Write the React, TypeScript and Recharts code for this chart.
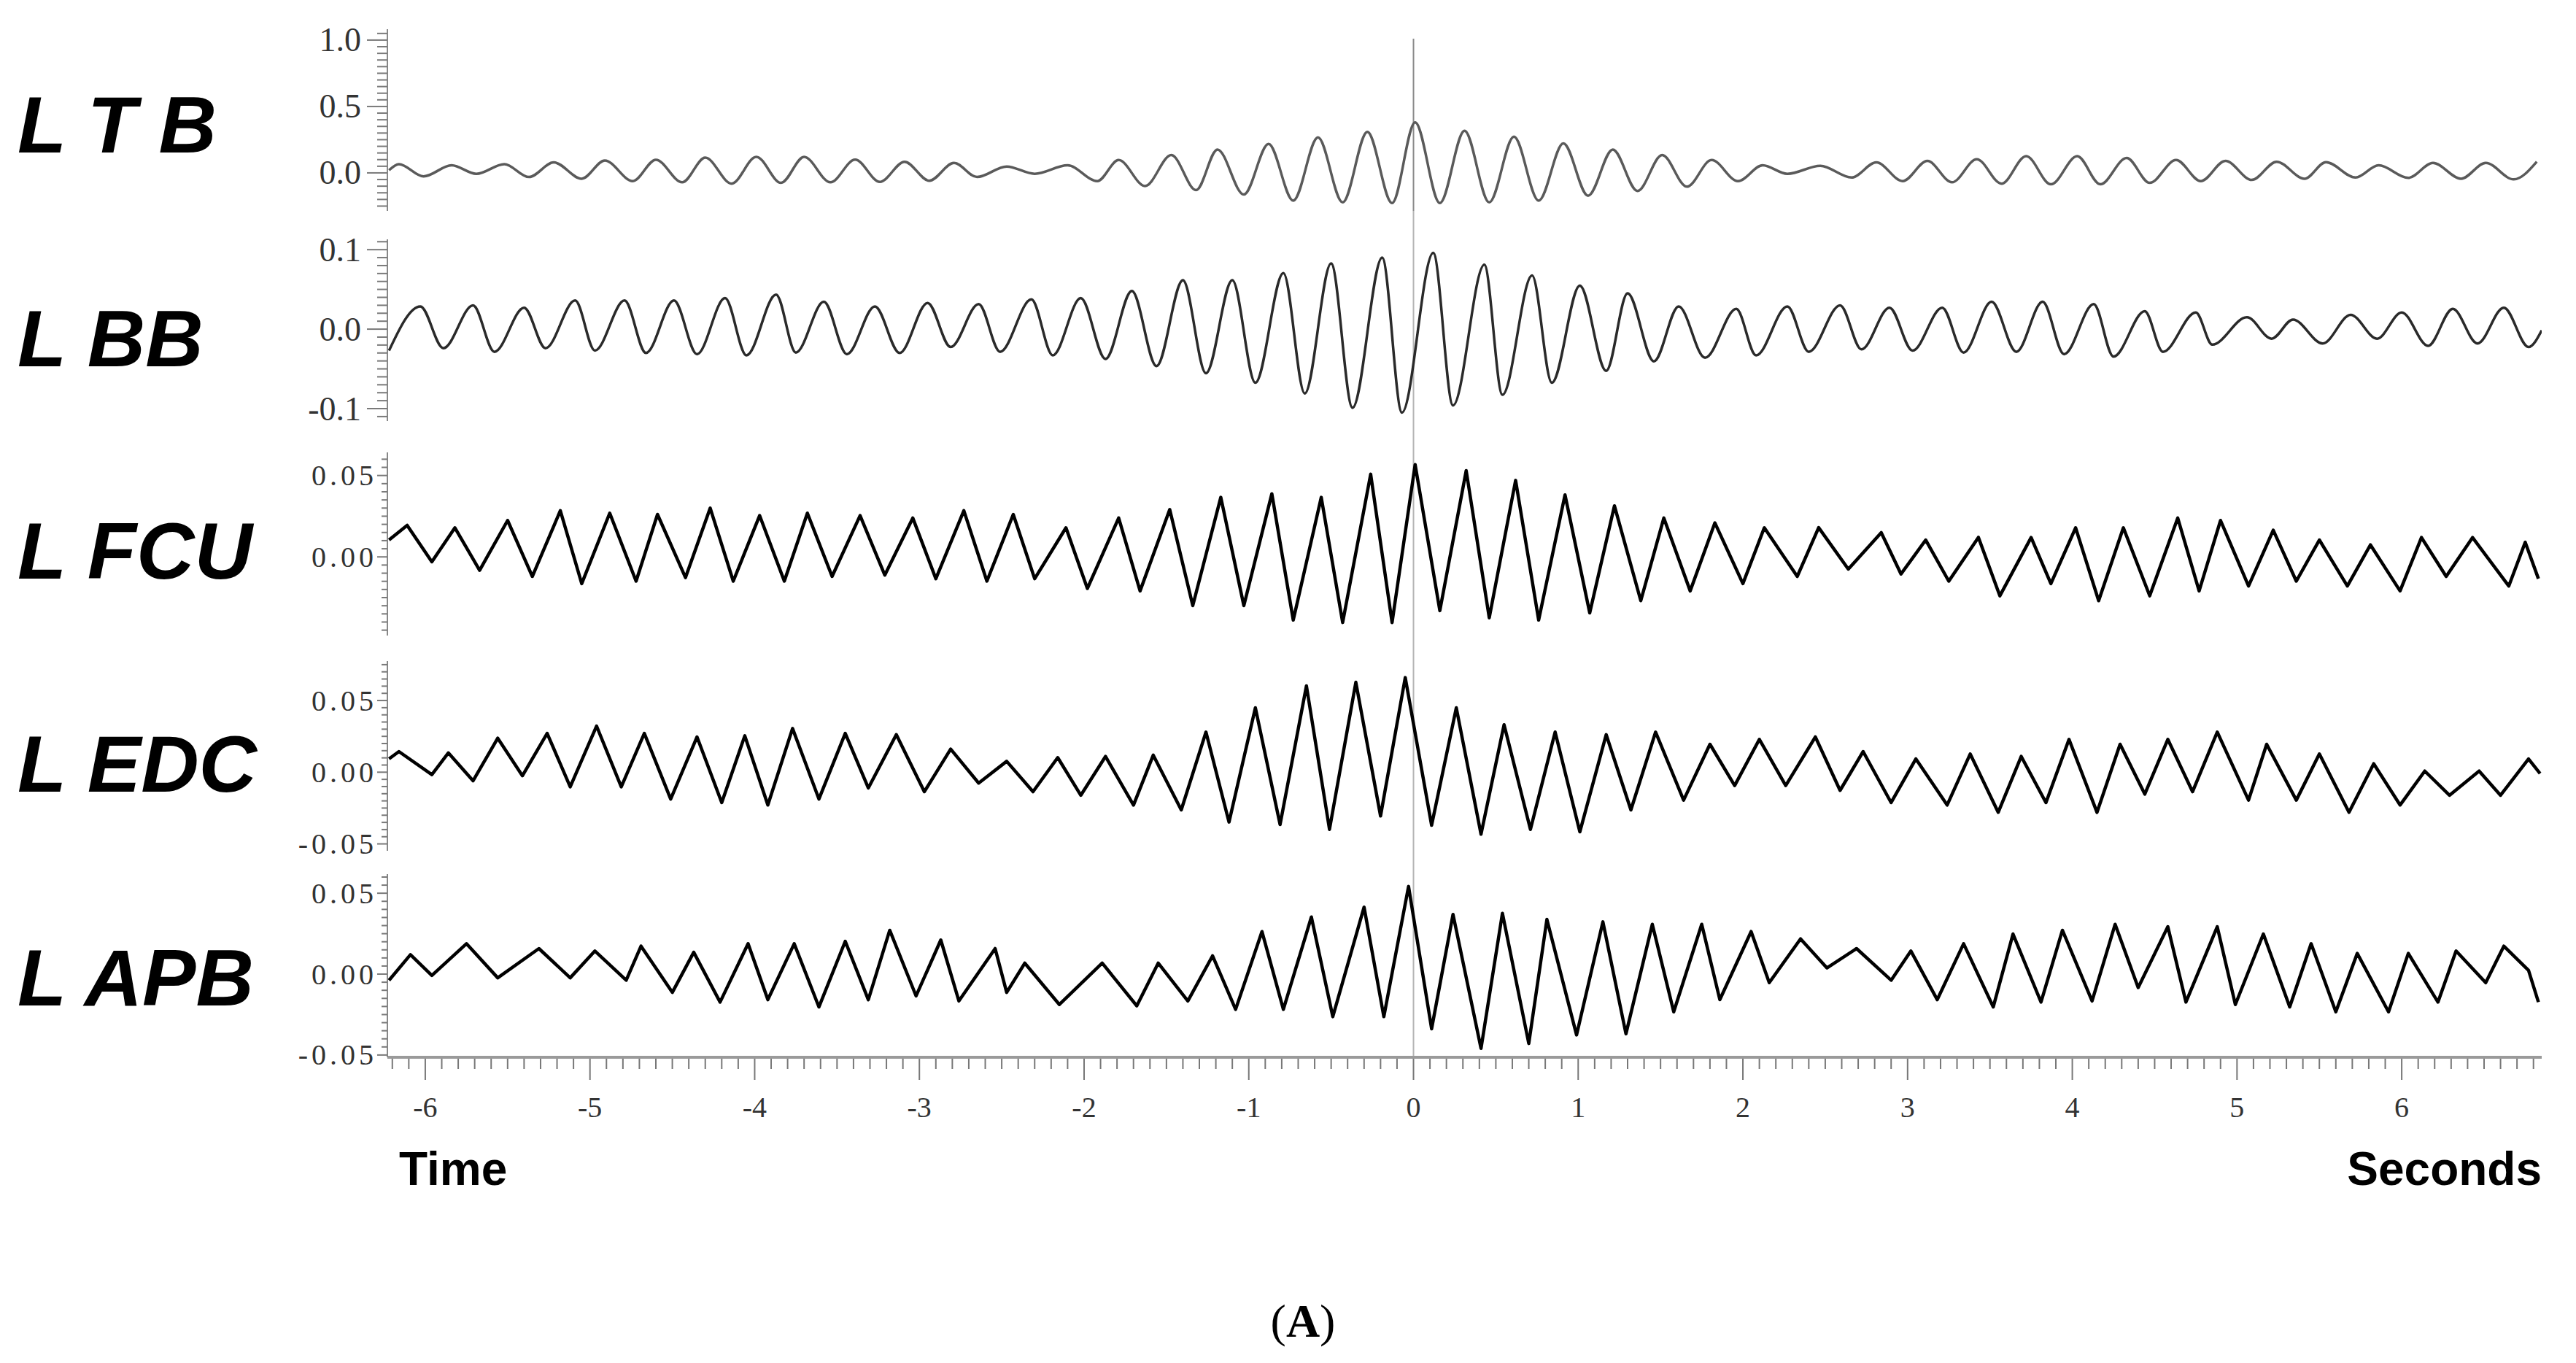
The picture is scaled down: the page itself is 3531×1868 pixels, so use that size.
import React from 'react';
import { LineChart, Line, XAxis, YAxis, ReferenceLine } from 'recharts';

// time lag window (seconds)
const X_MIN = -6.23;
const X_MAX = 6.85;
const xMajorTicks = [-6, -5, -4, -3, -2, -1, 0, 1, 2, 3, 4, 5, 6];

// peaks / troughs
const ltbTime = [
  -6.22, -6.16, -6.01, -5.84, -5.69, -5.52, -5.37, -5.22, -5.05, -4.91, -4.74, -4.6, -4.44, -4.3, -4.14,
  -3.99, -3.84, -3.7, -3.54, -3.39, -3.24, -3.09, -2.94, -2.79, -2.65, -2.47, -2.3, -2.1, -1.92, -1.79,
  -1.63, -1.47, -1.32, -1.19, -1.03, -0.88, -0.73, -0.58, -0.43, -0.28, -0.13, 0.01, 0.16, 0.31, 0.46,
  0.61, 0.76, 0.91, 1.06, 1.21, 1.36, 1.51, 1.66, 1.81, 1.97, 2.12, 2.27, 2.47, 2.66, 2.81, 2.97, 3.12,
  3.27, 3.42, 3.57, 3.72, 3.87, 4.03, 4.17, 4.33, 4.47, 4.63, 4.78, 4.93, 5.09, 5.24, 5.41, 5.54, 5.72,
  5.86, 6.04, 6.19, 6.36, 6.51, 6.68, 6.82,
];
const ltbValue = [
  0.02, 0.066, -0.026, 0.057, -0.007, 0.066, -0.031, 0.079, -0.044, 0.093, -0.062, 0.099, -0.071, 0.115,
  -0.081, 0.121, -0.075, 0.121, -0.071, 0.1, -0.068, 0.084, -0.059, 0.075, -0.031, 0.048, -0.007, 0.057,
  -0.062, 0.097, -0.099, 0.134, -0.13, 0.176, -0.163, 0.218, -0.209, 0.267, -0.222, 0.309, -0.227, 0.38,
  -0.227, 0.317, -0.222, 0.273, -0.209, 0.222, -0.172, 0.176, -0.136, 0.134, -0.104, 0.097, -0.062, 0.057,
  -0.007, 0.053, -0.035, 0.079, -0.062, 0.09, -0.071, 0.103, -0.081, 0.126, -0.086, 0.126, -0.086, 0.112,
  -0.075, 0.097, -0.062, 0.09, -0.053, 0.084, -0.044, 0.081, -0.035, 0.057, -0.038, 0.075, -0.044, 0.075,
  -0.049, 0.084,
];

const lbbTime = [
  -6.22, -6.03, -5.89, -5.71, -5.58, -5.4, -5.27, -5.09, -4.97, -4.79, -4.66, -4.49, -4.35, -4.18, -4.05,
  -3.87, -3.75, -3.58, -3.44, -3.27, -3.12, -2.95, -2.81, -2.64, -2.51, -2.32, -2.19, -2.02, -1.87, -1.71,
  -1.56, -1.4, -1.26, -1.1, -0.96, -0.79, -0.66, -0.5, -0.37, -0.19, -0.07, 0.12, 0.24, 0.43, 0.54, 0.72,
  0.84, 1.01, 1.17, 1.3, 1.46, 1.61, 1.77, 1.96, 2.08, 2.27, 2.4, 2.59, 2.72, 2.89, 3.03, 3.21, 3.34, 3.51,
  3.66, 3.82, 3.95, 4.13, 4.25, 4.44, 4.55, 4.75, 4.85, 5.06, 5.21, 5.34, 5.52, 5.69, 5.85, 6.0, 6.16,
  6.31, 6.46, 6.62, 6.77, 6.85,
];
const lbbValue = [
  -0.027, 0.0286, -0.024, 0.03, -0.0285, 0.027, -0.024, 0.036, -0.027, 0.036, -0.03, 0.036, -0.0315, 0.039,
  -0.033, 0.0435, -0.0295, 0.0345, -0.0315, 0.0286, -0.03, 0.033, -0.0225, 0.0315, -0.0285, 0.0375, -0.033,
  0.039, -0.0375, 0.048, -0.0465, 0.0615, -0.0555, 0.0615, -0.0675, 0.0705, -0.081, 0.0826, -0.099, 0.09,
  -0.105, 0.096, -0.096, 0.081, -0.0826, 0.0675, -0.0675, 0.0547, -0.0525, 0.045, -0.0405, 0.0286, -0.036,
  0.0255, -0.033, 0.0286, -0.0285, 0.03, -0.0255, 0.027, -0.027, 0.027, -0.0295, 0.0345, -0.0285, 0.0345,
  -0.0315, 0.0315, -0.0345, 0.0225, -0.0285, 0.021, -0.0195, 0.015, -0.012, 0.012, -0.018, 0.018, -0.012,
  0.021, -0.021, 0.0255, -0.018, 0.027, -0.0225, -0.0015,
];

const fcuTime = [
  -6.22, -6.11, -5.96, -5.82, -5.67, -5.5, -5.35, -5.18, -5.05, -4.88, -4.72, -4.59, -4.42, -4.27, -4.13,
  -3.97, -3.82, -3.68, -3.53, -3.36, -3.21, -3.04, -2.9, -2.73, -2.59, -2.43, -2.3, -2.11, -1.98, -1.79,
  -1.66, -1.48, -1.34, -1.17, -1.03, -0.86, -0.73, -0.56, -0.43, -0.26, -0.13, 0.01, 0.16, 0.32, 0.46, 0.62,
  0.76, 0.92, 1.07, 1.22, 1.38, 1.52, 1.68, 1.83, 2.0, 2.13, 2.33, 2.46, 2.64, 2.84, 2.96, 3.11, 3.25, 3.43,
  3.56, 3.75, 3.87, 4.02, 4.16, 4.31, 4.47, 4.64, 4.77, 4.9, 5.07, 5.22, 5.36, 5.5, 5.67, 5.81, 5.99, 6.12,
  6.27, 6.43, 6.65, 6.75, 6.83,
];
const fcuValue = [
  0.0104, 0.0194, -0.003, 0.0179, -0.0082, 0.0224, -0.012, 0.0284, -0.0164, 0.0269, -0.0149, 0.0261, -0.0127,
  0.03, -0.0149, 0.0254, -0.0149, 0.0269, -0.012, 0.0254, -0.0112, 0.0239, -0.0134, 0.0284, -0.0149, 0.0261,
  -0.0134, 0.0179, -0.0194, 0.0239, -0.0209, 0.0291, -0.0299, 0.0366, -0.0299, 0.0388, -0.0388, 0.0366,
  -0.0403, 0.0508, -0.0403, 0.0567, -0.033, 0.053, -0.0374, 0.047, -0.0388, 0.0381, -0.0344, 0.0314, -0.0269,
  0.0239, -0.0209, 0.0209, -0.0164, 0.0179, -0.012, 0.018, -0.0075, 0.0149, -0.0105, 0.0104, -0.0149, 0.012,
  -0.0239, 0.0119, -0.0164, 0.0179, -0.0269, 0.0179, -0.0239, 0.0239, -0.0209, 0.0224, -0.0179, 0.0164,
  -0.0149, 0.0104, -0.0179, 0.0074, -0.0209, 0.0119, -0.012, 0.0119, -0.0179, 0.009, -0.0134,
];

const edcTime = [
  -6.22, -6.16, -5.96, -5.86, -5.71, -5.56, -5.41, -5.26, -5.12, -4.96, -4.81, -4.67, -4.51, -4.35, -4.2,
  -4.06, -3.92, -3.77, -3.61, -3.45, -3.31, -3.14, -2.97, -2.81, -2.64, -2.47, -2.31, -2.16, -2.02, -1.87,
  -1.7, -1.58, -1.41, -1.26, -1.12, -0.96, -0.81, -0.65, -0.51, -0.35, -0.2, -0.05, 0.11, 0.26, 0.41, 0.55,
  0.71, 0.86, 1.01, 1.17, 1.32, 1.47, 1.64, 1.8, 1.95, 2.1, 2.26, 2.44, 2.59, 2.73, 2.9, 3.05, 3.24, 3.38,
  3.55, 3.69, 3.84, 3.98, 4.15, 4.29, 4.44, 4.58, 4.73, 4.88, 5.07, 5.18, 5.36, 5.5, 5.68, 5.83, 5.99, 6.14,
  6.29, 6.47, 6.6, 6.77, 6.84,
];
const edcValue = [
  0.0093, 0.0144, -0.0017, 0.0135, -0.006, 0.0237, -0.0025, 0.0271, -0.0102, 0.0322, -0.0102, 0.0271, -0.0187,
  0.0246, -0.0212, 0.0254, -0.0229, 0.0305, -0.0187, 0.0271, -0.011, 0.0262, -0.0136, 0.0161, -0.0076, 0.0076,
  -0.0136, 0.0102, -0.0161, 0.011, -0.0229, 0.0119, -0.0263, 0.028, -0.0348, 0.0449, -0.0365, 0.0602, -0.0399,
  0.0627, -0.0305, 0.066, -0.037, 0.0449, -0.0432, 0.0331, -0.0399, 0.028, -0.0416, 0.0262, -0.0263, 0.028,
  -0.0195, 0.0195, -0.0093, 0.0229, -0.0093, 0.0246, -0.0127, 0.0144, -0.0212, 0.0093, -0.0229, 0.0127, -0.028,
  0.011, -0.0212, 0.0229, -0.028, 0.0195, -0.0153, 0.0229, -0.0136, 0.028, -0.0195, 0.0195, -0.0195, 0.0127,
  -0.028, 0.0059, -0.0229, 0.0008, -0.0161, 0.0008, -0.0161, 0.0093, -0.0009,
];

const apbTime = [
  -6.22, -6.09, -5.96, -5.75, -5.56, -5.31, -5.12, -4.97, -4.78, -4.69, -4.5, -4.37, -4.21, -4.04, -3.92,
  -3.76, -3.61, -3.45, -3.31, -3.18, -3.02, -2.87, -2.76, -2.54, -2.47, -2.36, -2.15, -1.89, -1.68, -1.55,
  -1.37, -1.22, -1.08, -0.92, -0.79, -0.62, -0.49, -0.3, -0.18, -0.03, 0.11, 0.24, 0.41, 0.54, 0.7, 0.81,
  0.99, 1.15, 1.29, 1.45, 1.58, 1.75, 1.86, 2.05, 2.16, 2.35, 2.51, 2.69, 2.9, 3.02, 3.18, 3.34, 3.52, 3.64,
  3.81, 3.94, 4.12, 4.26, 4.4, 4.58, 4.69, 4.88, 4.99, 5.16, 5.32, 5.45, 5.6, 5.73, 5.92, 6.04, 6.22, 6.33,
  6.51, 6.62, 6.77, 6.83,
];
const apbValue = [
  -0.0038, 0.012, -0.0008, 0.0188, -0.0023, 0.0158, -0.0023, 0.0143, -0.0038, 0.0173, -0.0113, 0.0135, -0.0173,
  0.0188, -0.0158, 0.0188, -0.0203, 0.0203, -0.0158, 0.0271, -0.0135, 0.0211, -0.0166, 0.0158, -0.0113, 0.0068,
  -0.0188, 0.0068, -0.0196, 0.0068, -0.0166, 0.0113, -0.0218, 0.0263, -0.0218, 0.0353, -0.0263, 0.0414, -0.0263,
  0.0542, -0.0338, 0.0369, -0.0459, 0.0376, -0.0429, 0.0338, -0.0376, 0.0323, -0.0369, 0.0308, -0.0233, 0.0308,
  -0.0158, 0.0263, -0.0053, 0.0218, 0.0038, 0.0158, -0.0038, 0.0143, -0.0158, 0.0188, -0.0203, 0.0248, -0.0173,
  0.0271, -0.0166, 0.0308, -0.0083, 0.0293, -0.0173, 0.0293, -0.0188, 0.0248, -0.0203, 0.0188, -0.0233, 0.0128,
  -0.0233, 0.0128, -0.0173, 0.0143, -0.0053, 0.0173, 0.0023, -0.0173,
];

const toRows = (t: number[], v: number[]) => t.map((time, i) => ({ t: time, v: v[i] }));

// tick positions between lo and hi on a fixed step
const stepTicks = (lo: number, hi: number, step: number) => {
  const out: number[] = [];
  for (let i = Math.ceil(lo / step - 1e-9); i * step <= hi + 1e-9; i++) out.push(+(i * step).toFixed(4));
  return out;
};
const onStep = (v: number, step: number) => Math.abs(v / step - Math.round(v / step)) < 1e-6;

const LEFT = 531;
const RIGHT = 47;
const W = 3531;
const PAD = 50; // room above/below each panel so edge labels and the zero marker are not clipped

const panels = [
  {
    name: 'L T B', rows: toRows(ltbTime, ltbValue), top: 40, height: 249, domain: [-0.286, 1.082],
    minor: 0.05, major: 0.5, decimals: 1, font: 46, spacing: 0, majorLen: 28, minorLen: 14, gap: 36,
    stroke: '#5a5a5a', width: 3.5, curve: 'monotone', baseline: 209, zero: '#8a8a8a', lineAbove: -13,
  },
  {
    name: 'L BB', rows: toRows(lbbTime, lbbValue), top: 328, height: 249, domain: [-0.1156, 0.113],
    minor: 0.01, major: 0.1, decimals: 1, font: 46, spacing: 0, majorLen: 28, minorLen: 14, gap: 36,
    stroke: '#2a2a2a', width: 3.5, curve: 'monotone', baseline: 502, zero: '#b5b5b5', lineAbove: 39,
  },
  {
    name: 'L FCU', rows: toRows(fcuTime, fcuValue), top: 620, height: 251, domain: [-0.0483, 0.0642],
    minor: 0.005, major: 0.05, decimals: 2, font: 40, spacing: 5, majorLen: 14, minorLen: 8, gap: 14,
    stroke: '#000', width: 4.5, curve: 'linear', baseline: 793, zero: '#b5b5b5', lineAbove: 43,
  },
  {
    name: 'L EDC', rows: toRows(edcTime, edcValue), top: 906, height: 260, domain: [-0.0548, 0.0775],
    minor: 0.005, major: 0.05, decimals: 2, font: 40, spacing: 5, majorLen: 14, minorLen: 8, gap: 14,
    stroke: '#000', width: 4.5, curve: 'linear', baseline: 1085, zero: '#b5b5b5', lineAbove: 35,
  },
  {
    name: 'L APB', rows: toRows(apbTime, apbValue), top: 1198, height: 251, domain: [-0.0514, 0.0618],
    minor: 0.005, major: 0.05, decimals: 2, font: 40, spacing: 5, majorLen: 14, minorLen: 8, gap: 14,
    stroke: '#000', width: 4.5, curve: 'linear', baseline: 1378, zero: '#b5b5b5', lineAbove: 32,
  },
];

const xTicks = stepTicks(-6.2, 6.8, 0.1);
const X_AXIS_H = 130;

// zero-lag marker: spans the panel and the gap above it (pixels -> value units)
const zeroSegment = (p: (typeof panels)[number]) => {
  const [lo, hi] = p.domain;
  const perPx = (hi - lo) / p.height;
  return [
    { x: 0, y: lo },
    { x: 0, y: hi + p.lineAbove * perPx },
  ];
};

const makeYTick = (p: (typeof panels)[number]) => (props: any) => {
  const { x, y, payload } = props;
  const v = payload.value as number;
  const isMajor = onStep(v, p.major);
  return (
    <g>
      <line x1={x - (isMajor ? p.majorLen : p.minorLen)} x2={x} y1={y} y2={y} stroke="#7a7a7a" strokeWidth={2} />
      {isMajor && (
        <text
          x={x - p.gap}
          y={y}
          textAnchor="end"
          dominantBaseline="central"
          fontFamily="'Liberation Serif', serif"
          fontSize={p.font}
          letterSpacing={p.spacing}
          fill="#333"
        >
          {v.toFixed(p.decimals)}
        </text>
      )}
    </g>
  );
};

const renderXTick = (props: any) => {
  const { x, y, payload } = props;
  const v = payload.value as number;
  const isMajor = xMajorTicks.some((m) => Math.abs(m - v) < 1e-6);
  return (
    <g>
      <line x1={x} x2={x} y1={y + 2} y2={y + (isMajor ? 31 : 16)} stroke="#777" strokeWidth={2} />
      {isMajor && (
        <text
          x={x}
          y={y + 68}
          textAnchor="middle"
          dominantBaseline="central"
          fontFamily="'Liberation Serif', serif"
          fontSize={40}
          fill="#333"
        >
          {v}
        </text>
      )}
    </g>
  );
};

export default function App() {
  const last = panels.length - 1;
  return (
    <div style={{ position: 'absolute', left: 0, top: 0, width: W, height: 1868, background: '#fff' }}>
      {panels.map((p, i) => {
        const isLast = i === last;
        return (
          <div key={p.name} style={{ position: 'absolute', left: 0, top: p.top - PAD }}>
            <LineChart
              width={W}
              height={p.height + PAD * 2 + (isLast ? X_AXIS_H : 0)}
              data={p.rows}
              margin={{ top: PAD, right: RIGHT, bottom: PAD, left: 0 }}
            >
              <XAxis
                dataKey="t"
                type="number"
                domain={[X_MIN, X_MAX]}
                allowDataOverflow
                hide={!isLast}
                ticks={xTicks}
                interval={0}
                height={X_AXIS_H}
                tickSize={0}
                tickMargin={0}
                tickLine={false}
                axisLine={{ stroke: '#9a9a9a', strokeWidth: 4 }}
                tick={renderXTick}
              />
              <YAxis
                type="number"
                width={LEFT}
                domain={p.domain}
                allowDataOverflow
                ticks={stepTicks(p.domain[0], p.domain[1], p.minor)}
                interval={0}
                tickSize={0}
                tickMargin={0}
                tickLine={false}
                axisLine={{ stroke: '#888', strokeWidth: 2 }}
                tick={makeYTick(p)}
              />
              <ReferenceLine segment={zeroSegment(p)} ifOverflow="visible" stroke={p.zero} strokeWidth={2} />
              <Line
                type={p.curve as any}
                dataKey="v"
                stroke={p.stroke}
                strokeWidth={p.width}
                strokeLinejoin="round"
                dot={false}
                activeDot={false}
                isAnimationActive={false}
              />
            </LineChart>
          </div>
        );
      })}

      <svg width={W} height={1868} style={{ position: 'absolute', left: 0, top: 0, pointerEvents: 'none' }}>
        {panels.map((p) => (
          <text
            key={p.name}
            x={24}
            y={p.baseline}
            fontFamily="'Liberation Sans', Arial, sans-serif"
            fontWeight="bold"
            fontStyle="italic"
            fontSize={110}
            fill="#000"
            style={{ whiteSpace: 'pre' }}
          >
            {p.name}
          </text>
        ))}
        <text x={547} y={1624} fontFamily="'Liberation Sans', Arial, sans-serif" fontWeight="bold" fontSize={64} fill="#000">
          Time
        </text>
        <text x={3484} y={1624} textAnchor="end" fontFamily="'Liberation Sans', Arial, sans-serif" fontWeight="bold" fontSize={64} fill="#000">
          Seconds
        </text>
        <text x={1786} y={1832} textAnchor="middle" fontFamily="'Liberation Serif', serif" fontSize={64} fill="#000">
          (<tspan fontWeight="bold">A</tspan>)
        </text>
      </svg>
    </div>
  );
}
